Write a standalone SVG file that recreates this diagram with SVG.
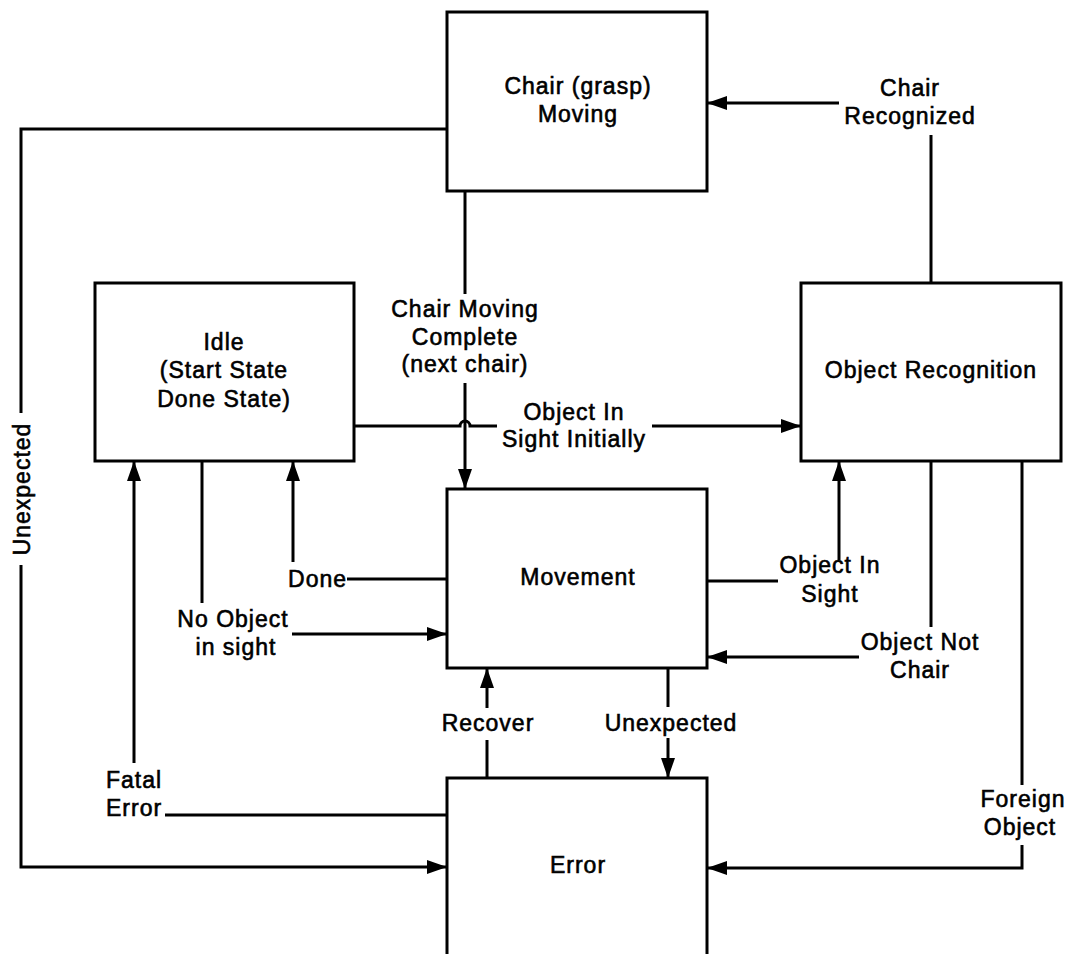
<svg xmlns="http://www.w3.org/2000/svg" width="1070" height="954" viewBox="0 0 1070 954">
<style>
  .box { fill: #fff; stroke: #000; stroke-width: 3; }
  .ln { fill: none; stroke: #000; stroke-width: 3; }
  .arr { fill: none; stroke: #000; stroke-width: 3; marker-end: url(#ah); }
  text { font-family: "Liberation Sans", Arial, sans-serif; font-size: 23px; fill: #000; stroke: #000; stroke-width: 0.6; letter-spacing: 1px; }
  .c { text-anchor: middle; }
  .e { text-anchor: end; }
</style>
<defs>
  <marker id="ah" markerUnits="userSpaceOnUse" viewBox="0 0 20 14" refX="20" refY="7" markerWidth="20" markerHeight="14" orient="auto">
    <path d="M0,0 L20,7 L0,14 Z" fill="#000"/>
  </marker>
</defs>
<rect width="1070" height="954" fill="#fff"/>

<g id="connectors">
  <!-- Chair Recognized -->
  <path class="ln" d="M931,283 V135"/>
  <path class="arr" d="M839,103 H707"/>
  <text class="c" x="910" y="96">Chair</text>
  <text class="c" x="910" y="124">Recognized</text>

  <!-- Unexpected (left loop) -->
  <path class="ln" d="M447,129 H21 V413"/>
  <path class="arr" d="M21,565 V867 H447"/>
  <text class="c" transform="translate(30,489) rotate(-90)" x="0" y="0">Unexpected</text>

  <!-- Chair Moving Complete -->
  <path class="ln" d="M465,191 V294"/>
  <path class="arr" d="M465,383 V489"/>
  <text class="c" x="465" y="317">Chair Moving</text>
  <text class="c" x="465" y="345">Complete</text>
  <text class="c" x="465" y="372">(next chair)</text>

  <!-- Object In Sight Initially -->
  <path class="ln" d="M354,426 H460 A5,5 0 0 1 470,426 H497"/>
  <path class="arr" d="M652,426 H801"/>
  <text class="c" x="574" y="420">Object In</text>
  <text class="c" x="574" y="447">Sight Initially</text>

  <!-- Done -->
  <path class="ln" d="M447,579 H347"/>
  <path class="arr" d="M293,562 V461"/>
  <text class="e" x="347" y="587">Done</text>

  <!-- No Object in sight -->
  <path class="ln" d="M202,461 V603"/>
  <path class="arr" d="M292,634 H447"/>
  <text class="c" x="233" y="627">No Object</text>
  <text class="c" x="236" y="655">in sight</text>

  <!-- Object In Sight -->
  <path class="ln" d="M707,581 H778"/>
  <path class="arr" d="M839,560 V461"/>
  <text class="c" x="830" y="573">Object In</text>
  <text class="c" x="830" y="602">Sight</text>

  <!-- Object Not Chair -->
  <path class="ln" d="M931,461 V627"/>
  <path class="arr" d="M859,657 H707"/>
  <text class="c" x="920" y="650">Object Not</text>
  <text class="c" x="920" y="678">Chair</text>

  <!-- Foreign Object -->
  <path class="ln" d="M1022,461 V785"/>
  <path class="arr" d="M1022,845 V868 H707"/>
  <text class="c" x="1023" y="807">Foreign</text>
  <text class="c" x="1020" y="835">Object</text>

  <!-- Recover -->
  <path class="ln" d="M487,778 V740"/>
  <path class="arr" d="M487,708 V668"/>
  <text class="c" x="488" y="731">Recover</text>

  <!-- Unexpected (bottom) -->
  <path class="ln" d="M668,668 V707"/>
  <path class="arr" d="M668,738 V778"/>
  <text class="c" x="671" y="731">Unexpected</text>

  <!-- Fatal Error -->
  <path class="ln" d="M447,815 H165"/>
  <path class="arr" d="M134,763 V461"/>
  <text x="106" y="788">Fatal</text>
  <text x="106" y="816">Error</text>
</g>

<g id="node-chair-moving">
  <rect class="box" x="447" y="12" width="260" height="179"/>
  <text class="c" x="578" y="94">Chair (grasp)</text>
  <text class="c" x="578" y="122">Moving</text>
</g>

<g id="node-idle">
  <rect class="box" x="95" y="283" width="259" height="178"/>
  <text class="c" x="224" y="350">Idle</text>
  <text class="c" x="224" y="378">(Start State</text>
  <text class="c" x="224" y="407">Done State)</text>
</g>

<g id="node-object-recognition">
  <rect class="box" x="801" y="283" width="260" height="178"/>
  <text class="c" x="931" y="378">Object Recognition</text>
</g>

<g id="node-movement">
  <rect class="box" x="447" y="489" width="260" height="179"/>
  <text class="c" x="578" y="585">Movement</text>
</g>

<g id="node-error">
  <rect class="box" x="447" y="778" width="260" height="200"/>
  <text class="c" x="578" y="873">Error</text>
</g>
</svg>
